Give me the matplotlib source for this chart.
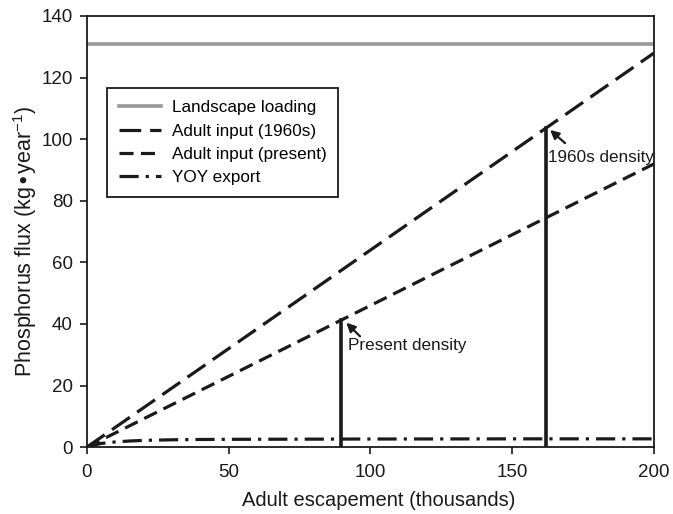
import numpy as np
import matplotlib.pyplot as plt

plt.rcParams['font.family'] = ['Liberation Sans', 'DejaVu Sans']

# odziv fosfora na brojnost odraslih
escapement = [0, 200]
landscape = [130.8, 130.8]
adult_1960s = [0, 128]
adult_present = [0, 92]

yoy_x = [0, 2, 5, 10, 15, 20, 30, 40, 50, 75, 100, 150, 200]
yoy_y = [0, 0.6, 1.2, 1.7, 2.0, 2.2, 2.4, 2.5, 2.55, 2.6, 2.65, 2.7, 2.7]

present_x, present_y = 89.5, 41.2
d1960_x, d1960_y = 162, 103.7

ink = '#1a1a1a'

fig = plt.figure(figsize=(6.73, 5.14), dpi=100)
ax = fig.add_axes([0.129, 0.130, 0.843, 0.839])

ax.plot(escapement, landscape, color='#999999', lw=2.6, label='Landscape loading')
ax.plot(escapement, adult_1960s, color=ink, lw=2.3, dashes=(6.8, 2.8), label='Adult input (1960s)')
ax.plot(escapement, adult_present, color=ink, lw=2.3, dashes=(4.4, 2.3), label='Adult input (present)')
ax.plot(yoy_x, yoy_y, color=ink, lw=2.3, dashes=(6, 2.2, 1.0, 2.2), label='YOY export')

# okomite linije za gustoće
ax.plot([present_x, present_x], [0, present_y], color=ink, lw=2.6)
ax.plot([d1960_x, d1960_x], [0, d1960_y], color=ink, lw=2.6)

# strelice i natpisi
arrow = dict(arrowstyle='-|>', color=ink, lw=1.6, mutation_scale=13, shrinkA=0, shrinkB=0)
ax.annotate('', xy=(91.5, 40.4), xytext=(96.3, 36.0), arrowprops=arrow)
ax.text(91.9, 33.1, 'Present density', fontsize=12.3, color=ink, va='center', ha='left')
ax.annotate('', xy=(163.3, 103.0), xytext=(168.6, 98.7), arrowprops=arrow)
ax.text(162.6, 94.2, '1960s density', fontsize=12.3, color=ink, va='center', ha='left')

ax.set_xlim(0, 200)
ax.set_ylim(0, 140)
ax.set_xticks([0, 50, 100, 150, 200])
ax.set_yticks(range(0, 141, 20))
ax.tick_params(direction='out', length=5, width=1.2, labelsize=13.5, colors=ink, pad=5)
ax.tick_params(axis='x', pad=7)
for s in ax.spines.values():
    s.set_linewidth(1.3)
    s.set_color(ink)

ax.set_xlabel('Adult escapement (thousands)', fontsize=14.5, color=ink, labelpad=7)
ax.set_ylabel(r'Phosphorus flux (kg$\bullet$year$^{\mathregular{-1}}$)', fontsize=15.5, color=ink, labelpad=2)
ax.xaxis.label.set_x(0.515)
ax.yaxis.label.set_y(0.476)

leg = ax.legend(loc='upper left', bbox_to_anchor=(0.035, 0.832), fontsize=12.3,
                frameon=True, fancybox=False, edgecolor=ink, framealpha=1, handlelength=2.5,
                borderpad=0.7, labelspacing=0.48, handletextpad=0.6, borderaxespad=0)
leg.get_frame().set_linewidth(1.3)

plt.savefig('out.png', dpi=100)
